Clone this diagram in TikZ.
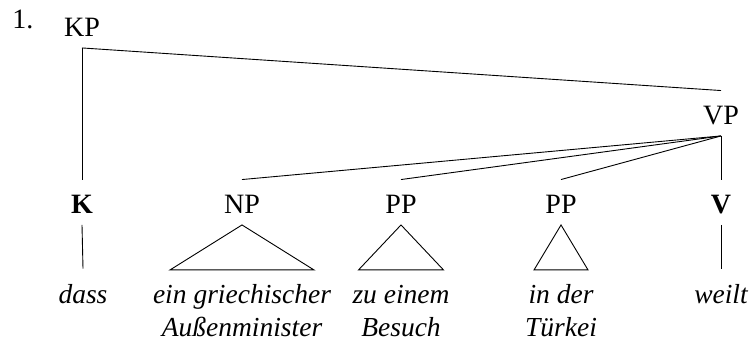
\documentclass[tikz,border=0pt]{standalone}
\usepackage{fontspec}
\setmainfont{Liberation Serif}
\begin{document}
\begin{tikzpicture}[x=1pt,y=-1pt,line width=0.9pt,
  every node/.style={inner sep=0pt,font=\fontsize{28}{33}\selectfont},
  cat/.style={anchor=base,text height=34pt,text depth=10.5pt},
  word/.style={anchor=base,text height=35pt,text depth=0pt,font=\fontsize{27.5}{33}\selectfont\itshape},
  word2/.style={anchor=base,font=\fontsize{27.5}{33}\selectfont\itshape}]
\useasboundingbox (0,0) rectangle (752,344);
\node[anchor=base west] (num) at (12,29) {1.};
\node[cat] (kp) at (82,37) {KP};
\node[cat] (vp) at (721,125) {VP};
\node[cat] (k) at (82,214) {\textbf{K}};
\node[cat] (np) at (242,214) {NP};
\node[cat] (pp1) at (401,214) {PP};
\node[cat] (pp2) at (561,214) {PP};
\node[cat] (v) at (721,214) {\textbf{V}};
\node[word] (w1) at (83,304) {dass};
\node[word] (w2) at (242,304) {ein griechischer};
\node[word2] (w2b) at (242,337) {Außenminister};
\node[word] (w3) at (401,304) {zu einem};
\node[word2] (w3b) at (401,337) {Besuch};
\node[word] (w4) at (561,304) {in der};
\node[word2] (w4b) at (561,337) {Türkei};
\node[word] (w5) at (721,304) {weilt};
\draw (kp.south) -- (k.north);
\draw (kp.south) -- (vp.north);
\draw (vp.south) -- (np.north);
\draw (vp.south) -- (pp1.north);
\draw (vp.south) -- (pp2.north);
\draw (vp.south) -- (v.north);
\draw (k.south) -- (w1.north);
\draw (v.south) -- (w5.north);
\draw (np.south) -- ++(-72,45) -- ++(144,0) -- cycle;
\draw (pp1.south) -- ++(-42.5,45) -- ++(85,0) -- cycle;
\draw (pp2.south) -- ++(-27,45) -- ++(54,0) -- cycle;
\end{tikzpicture}
\end{document}
